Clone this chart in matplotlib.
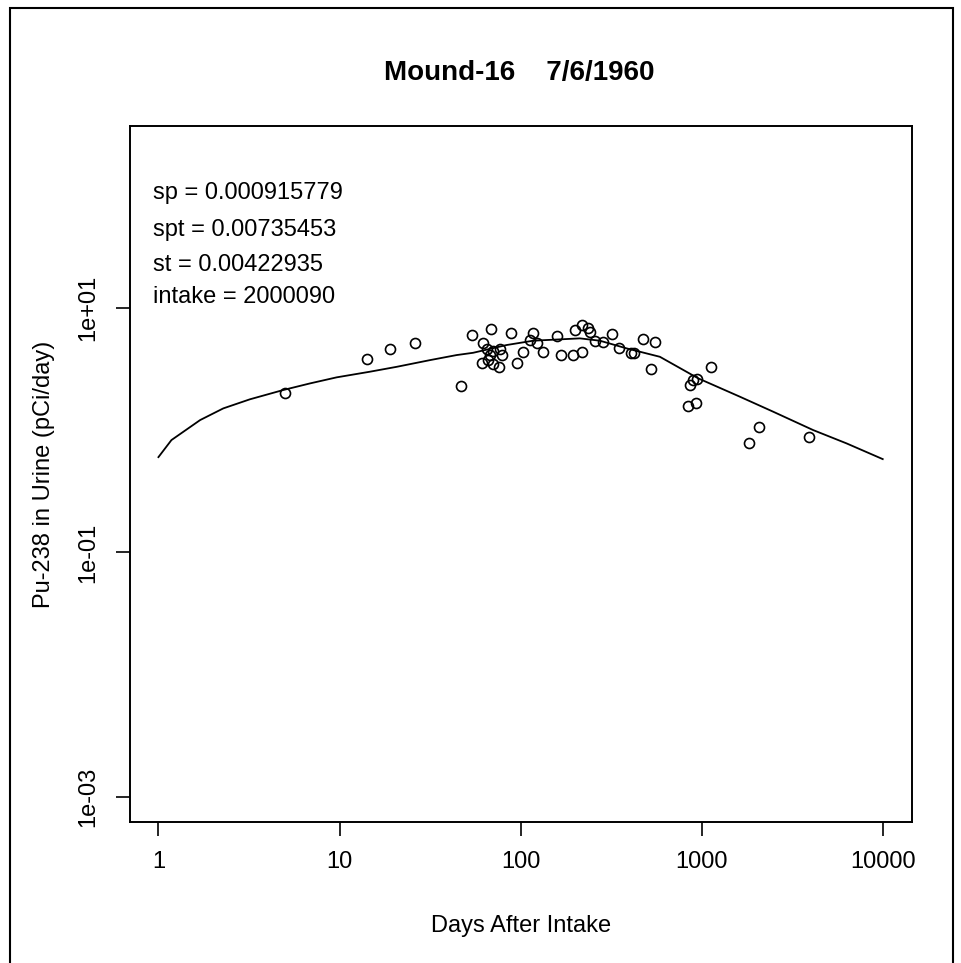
import matplotlib.pyplot as plt
from matplotlib.patches import Rectangle

plt.rcParams['font.family'] = ['Liberation Sans', 'DejaVu Sans']

# measured urine results (days after intake, pCi/day)
days = [5.0, 14.1, 19.1, 26.0, 46.6, 54.1, 68.3, 88.1, 62.2, 64.9,
        70.6, 76.9, 60.9, 66.2, 70.6, 76.2, 67.7, 78.5, 112.5, 122.6,
        103.3, 95.1, 116.5, 133.3, 159.2, 166.3, 193.7, 199.4, 217.2, 236.2,
        241.3, 217.0, 257.0, 285.9, 318.0, 350.0, 405.0, 422.0, 472.0, 551.0,
        522.0, 898.0, 861.0, 937.0, 1120.0, 842.0, 929.0, 2078.0, 1828.0, 3924.0]
urine = [1.99, 3.77, 4.55, 5.10, 2.28, 5.96, 6.64, 6.16, 5.16, 4.55,
         4.44, 4.55, 3.50, 3.72, 3.45, 3.25, 4.09, 4.09, 5.43, 5.10,
         4.36, 3.50, 6.16, 4.36, 5.85, 4.09, 4.09, 6.55, 7.19, 6.76,
         6.34, 4.36, 5.35, 5.20, 6.08, 4.64, 4.23, 4.23, 5.50, 5.26,
         3.13, 2.56, 2.33, 2.59, 3.25, 1.56, 1.65, 1.05, 0.778, 0.87]

# fitted excretion curve
fit_days = [1, 1.18, 1.7, 2.28, 3.2, 4.89, 6.87, 9.64, 14.7, 20.7,
            31.6, 44.3, 54.7, 83.7, 117.4, 212.6, 274, 385, 588, 957,
            1625, 2483, 4128, 6310, 10000]
fit_urine = [0.60, 0.827, 1.205, 1.50, 1.78, 2.12, 2.40, 2.69, 2.99, 3.28,
             3.72, 4.09, 4.27, 4.94, 5.36, 5.60, 5.36, 4.64, 3.96, 2.64,
             1.87, 1.41, 0.998, 0.777, 0.578]

fit_text = ['sp = 0.000915779', 'spt = 0.00735453',
            'st = 0.00422935', 'intake = 2000090']

fig = plt.figure(figsize=(9.61, 9.63), dpi=100)
ax = fig.add_axes([130 / 961, 1 - 821.7 / 963, 781.7 / 961, 695.7 / 963])

ax.plot(fit_days, fit_urine, color='black', linewidth=1.3)
ax.plot(days, urine, linestyle='none', marker='o', markersize=7.2,
        markerfacecolor='none', markeredgecolor='black', markeredgewidth=1.2)

ax.set_xscale('log')
ax.set_yscale('log')
ax.set_xlim(10 ** -0.157, 10 ** 4.16)
ax.set_ylim(10 ** -3.20, 10 ** 2.483)

ax.set_xticks([1, 10, 100, 1000, 10000])
ax.set_xticklabels(['1', '10', '100', '1000', '10000'])
ax.set_yticks([1e-3, 1e-1, 1e1])
ax.set_yticklabels(['1e-03', '1e-01', '1e+01'], rotation=90, va='center')
ax.minorticks_off()
ax.tick_params(axis='both', direction='out', length=10, width=1.2,
               labelsize=17, color='black')
ax.tick_params(axis='x', pad=11)
ax.tick_params(axis='y', pad=12)
for side in ax.spines.values():
    side.set_linewidth(1.4)

for i, line in enumerate(fit_text):
    ax.text(0.029, [0.9037, 0.8504, 0.8001, 0.754][i], line,
            transform=ax.transAxes, fontsize=17, va='center', ha='left')

fig.text(519 / 961, 1 - 73 / 963, 'Mound-16    7/6/1960', fontsize=20,
         fontweight='bold', ha='center', va='center')
fig.text(521 / 961, 1 - 926 / 963, 'Days After Intake', fontsize=17,
         ha='center', va='center')
fig.text(44 / 961, 1 - 474 / 963, 'Pu-238 in Urine (pCi/day)', fontsize=17,
         rotation=90, ha='center', va='center')

# outer frame of the original picture
fig.add_artist(Rectangle((10 / 961, -0.02), 943 / 961, 1.02 - 8 / 963,
                         transform=fig.transFigure, fill=False,
                         edgecolor='black', linewidth=1.5))

plt.savefig('out.png', dpi=100)
